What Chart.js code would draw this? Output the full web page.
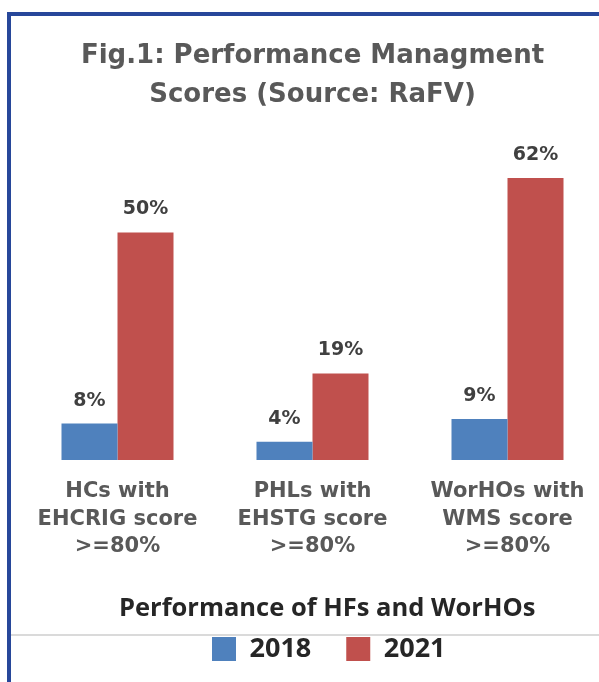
<!DOCTYPE html>
<html>
<head>
<meta charset="utf-8">
<script src="https://cdn.jsdelivr.net/npm/chart.js@4.4.1/dist/chart.umd.min.js"></script>
<style>
    html, body { margin: 0; padding: 0; background: #fff; overflow: hidden; width: 599px; height: 682px; }
    #frame { position: absolute; left: 7px; top: 12px; width: 700px; height: 700px; border-top: 4.5px solid #27479a; border-left: 4.5px solid #27479a; }
    #rule { position: absolute; left: 11px; top: 633.5px; width: 600px; height: 2px; background: #dadada; }
    #box { position: absolute; left: 0; top: 0; width: 625px; height: 700px; }
</style>
</head>
<body>
<div id="frame"></div>
<div id="rule"></div>
<div id="box"><canvas id="myChart"></canvas></div>
<script>
// datos de la grafica
const categories = [
    ['HCs with', 'EHCRIG score', '>=80%'],
    ['PHLs with', 'EHSTG score', '>=80%'],
    ['WorHOs with', 'WMS score', '>=80%']
];
const years = ['2018', '2021'];
const values2018 = [8, 4, 9];
const values2021 = [50, 19, 62];
const chartTitle = ['Fig.1: Performance Managment', 'Scores (Source: RaFV)'];
const axisTitle = 'Performance of HFs and WorHOs';

// etiquetas de porcentaje encima de cada barra
const barLabels = {
    id: 'barLabels',
    afterDatasetsDraw(chart) {
        const ctx = chart.ctx;
        ctx.save();
        ctx.font = 'bold 19px "DejaVu Sans"';
        ctx.fillStyle = '#404040';
        ctx.textAlign = 'center';
        ctx.textBaseline = 'middle';
        chart.data.datasets.forEach((ds, i) => {
            chart.getDatasetMeta(i).data.forEach((bar, j) => {
                ctx.fillText(ds.data[j] + '%', bar.x, bar.y - 23);
            });
        });
        ctx.restore();
    }
};

// acomodar leyenda y titulo del eje
const placeBoxes = {
    id: 'placeBoxes',
    afterLayout(chart) {
        const lg = chart.legend;
        const h = lg.bottom - lg.top;
        lg.top = 600.5;
        lg.bottom = 600.5 + h;
        lg.left = 177;
        chart.scales.x.left = 119;
    }
};

const myChart = new Chart(document.getElementById('myChart'), {
    type: 'bar',
    data: {
        labels: categories,
        datasets: [{
            label: years[0],
            data: values2018,
            backgroundColor: '#4F81BD',
            borderWidth: 0,
            clip: false
        },
        {
            label: years[1],
            data: values2021,
            backgroundColor: '#C0504D',
            borderWidth: 0,
            clip: false
        }]
    },
    options: {
        responsive: true,
        maintainAspectRatio: false,
        animation: false,
        categoryPercentage: 0.5744,
        barPercentage: 1,
        layout: {
            padding: { left: 20, right: 20, top: 0, bottom: 3.7 }
        },
        scales: {
            x: {
                grid: { display: false },
                border: { display: false },
                ticks: {
                    color: '#595959',
                    padding: 10,
                    maxRotation: 0,
                    autoSkip: false,
                    font: { family: 'DejaVu Sans', weight: 'bold', size: 21, lineHeight: '27.5px' }
                },
                title: {
                    display: true,
                    text: axisTitle,
                    align: 'start',
                    color: '#262626',
                    padding: { top: 23.2, bottom: 0 },
                    font: { family: 'Open Sans', weight: 'bold', size: 25.5, lineHeight: 1.2 }
                }
            },
            y: {
                display: false,
                min: 0,
                max: 70
            }
        },
        plugins: {
            title: {
                display: true,
                text: chartTitle,
                color: '#595959',
                padding: { top: 37, bottom: 26.5 },
                font: { family: 'DejaVu Sans', weight: 'bold', size: 26, lineHeight: '39px' }
            },
            legend: {
                display: true,
                position: 'bottom',
                align: 'start',
                labels: {
                    boxWidth: 24,
                    boxHeight: 24,
                    padding: 35,
                    color: '#262626',
                    font: { family: 'Open Sans', weight: 'bold', size: 27 }
                }
            },
            tooltip: { enabled: false }
        }
    },
    plugins: [barLabels, placeBoxes]
});
</script>
</body>
</html>
